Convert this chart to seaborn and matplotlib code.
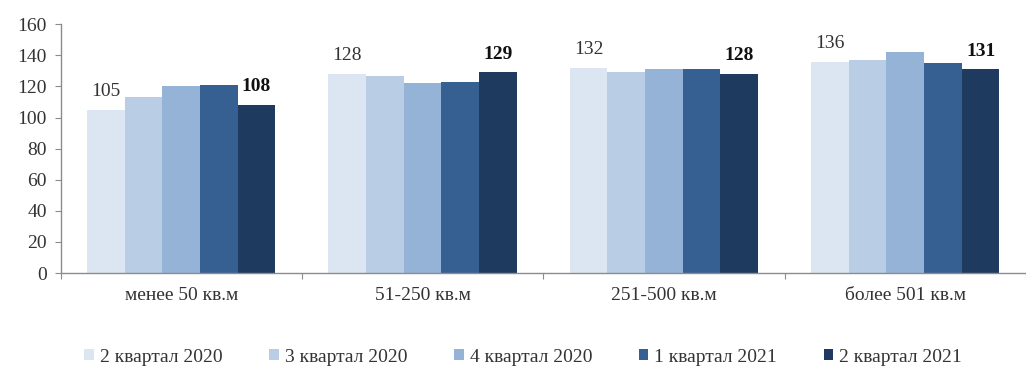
import matplotlib
matplotlib.use("Agg")
import matplotlib.pyplot as plt
import numpy as np
import pandas as pd
import seaborn as sns

categories = ["менее 50 кв.м", "51-250 кв.м", "251-500 кв.м", "более 501 кв.м"]
periods = ["2 квартал 2020", "3 квартал 2020", "4 квартал 2020",
           "1 квартал 2021", "2 квартал 2021"]
q2_2020 = [105, 128, 132, 136]
q3_2020 = [113, 127, 129, 137]
q4_2020 = [120, 122, 131, 142]
q1_2021 = [121, 123, 131, 135]
q2_2021 = [108, 129, 128, 131]
yticks = [0, 20, 40, 60, 80, 100, 120, 140, 160]

palette = ["#DCE6F2", "#B9CDE5", "#95B3D7", "#376092", "#1F3A5F"]

series = [q2_2020, q3_2020, q4_2020, q1_2021, q2_2021]
rows = []
for period, vals in zip(periods, series):
    for cat, v in zip(categories, vals):
        rows.append({"category": cat, "period": period, "value": v})
df = pd.DataFrame(rows)

sns.set_theme(style="white")
plt.rcParams["font.family"] = ["Liberation Serif", "DejaVu Serif"]

fig = plt.figure(figsize=(10.26, 3.72), dpi=100)
ax = fig.add_axes([0.059, 0.266, 0.941, 0.669])

sns.barplot(data=df, x="category", y="value", hue="period",
            hue_order=periods, order=categories, palette=palette,
            width=0.78, gap=0, saturation=1, errorbar=None,
            edgecolor="none", linewidth=0, ax=ax)

# value labels on the first and last period
ax.bar_label(ax.containers[0], labels=[str(v) for v in q2_2020],
             padding=7, fontsize=14, color="#333333")
ax.bar_label(ax.containers[-1], labels=[str(v) for v in q2_2021],
             padding=7, fontsize=14, fontweight="bold", color="#111111")

ax.set_ylim(0, 160)
ax.set_yticks(yticks)
ax.set_xlim(-0.5, len(categories) - 0.5)
ax.set_xlabel("")
ax.set_ylabel("")

for side in ("top", "right"):
    ax.spines[side].set_visible(False)
for side in ("left", "bottom"):
    ax.spines[side].set_color("#8c8c8c")
    ax.spines[side].set_linewidth(1.0)

ax.tick_params(axis="y", which="major", left=True, length=4, width=0.8,
               color="#8c8c8c", labelsize=14, labelcolor="#333333", pad=6)
ax.tick_params(axis="x", which="major", bottom=False, length=0,
               labelsize=14, labelcolor="#333333", pad=10)
ax.set_xticks(np.arange(-0.5, len(categories)), minor=True)
ax.tick_params(axis="x", which="minor", bottom=True, length=4, width=0.8,
               color="#8c8c8c")

handles, labels = ax.get_legend_handles_labels()
ax.legend_.remove()
fig.legend(handles, labels, loc="center", bbox_to_anchor=(0.51, 0.04),
           ncol=5, frameon=False, fontsize=14, handlelength=0.5,
           handleheight=0.5, handletextpad=0.3, columnspacing=2.4,
           labelcolor="#333333")

fig.savefig("out.png", dpi=100)
